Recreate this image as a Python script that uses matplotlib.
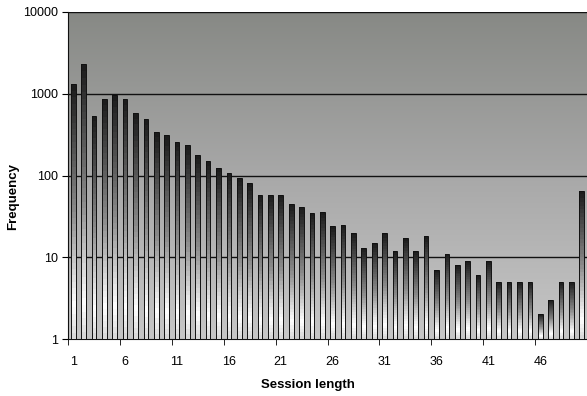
import numpy as np
import matplotlib
matplotlib.use("Agg")
import matplotlib.pyplot as plt
from matplotlib.colors import LinearSegmentedColormap

plt.rcParams["font.family"] = ["Liberation Sans", "DejaVu Sans"]

# datos
session_length = list(range(1, 51))
frequency = [1300, 2300, 540, 870, 960, 870, 580, 490, 340, 310,
             260, 235, 180, 150, 125, 108, 93, 80, 58, 58,
             58, 45, 41, 35, 36, 24, 25, 20, 13, 15,
             20, 12, 17, 12, 18, 7, 11, 8, 9, 6,
             9, 5, 5, 5, 5, 2, 3, 5, 5, 65]
tick_labels = [str(v) for v in range(1, 50, 5)]

W, H = 587, 396
fig = plt.figure(figsize=(W / 100, H / 100), dpi=100)
pos = [68 / W, 1 - 339 / H, 1 - 68 / W, (339 - 12) / H]

# fondo degradado
bg = fig.add_axes(pos)
bg_cmap = LinearSegmentedColormap.from_list("bg", ["#c6c6c6", "#a8a8a8", "#878985"])
bg.imshow(np.linspace(0, 1, 256).reshape(-1, 1)[::-1], cmap=bg_cmap,
          aspect="auto", extent=[0, 1, 0, 1])
bg.set_axis_off()

ax = fig.add_axes(pos)
ax.set_facecolor("none")
ax.set_yscale("log")
ax.set_ylim(1, 10000)
ax.set_xlim(0.5, 50.5)

# barras con degradado: oscuro arriba, blanco abajo
bar_cmap = LinearSegmentedColormap.from_list(
    "bar", [(0.0, "#d8d8d8"), (0.12, "#ffffff"), (0.5, "#8a8a8a"), (1.0, "#1c1c1c")])
width = 0.45
for x, h in zip(session_length, frequency):
    ys = np.logspace(0, np.log10(h), 41)
    X, Y = np.meshgrid([x - width / 2, x + width / 2], ys)
    C = np.linspace(0, 1, 40).reshape(-1, 1)
    ax.pcolormesh(X, Y, C, cmap=bar_cmap, vmin=0, vmax=1, shading="flat", zorder=3)
    ax.bar(x, h - 1, width=width, bottom=1, fill=False, edgecolor="#111111",
           linewidth=0.7, zorder=4)

for v in [10, 100, 1000, 10000]:
    ax.axhline(v, color="#111111", linewidth=1.0, zorder=2)

ax.set_yticks([1, 10, 100, 1000, 10000])
ax.set_yticklabels(["1", "10", "100", "1000", "10000"])
ax.minorticks_off()
ax.set_xticks(session_length[::5])
ax.set_xticklabels(tick_labels)
ax.set_xticks(np.arange(0.5, 51, 5), minor=True)
ax.tick_params(axis="x", which="major", length=0, pad=12, labelsize=9)
ax.tick_params(axis="x", which="minor", length=4, direction="out")
ax.tick_params(axis="y", length=4, direction="out", labelsize=9, pad=3)

for s in ["top", "right"]:
    ax.spines[s].set_visible(False)
ax.spines["left"].set_color("#111111")
ax.spines["bottom"].set_color("#111111")

fig.text(308 / W, 1 - 385 / H, "Session length", fontsize=9.5, fontweight="bold",
         ha="center", va="center")
fig.text(13 / W, 1 - 197 / H, "Frequency", fontsize=9.5, fontweight="bold",
         ha="center", va="center", rotation=90)

fig.savefig("out.png", dpi=100)
